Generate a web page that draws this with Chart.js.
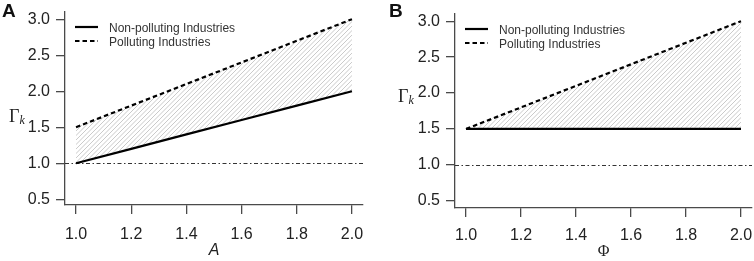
<!DOCTYPE html>
<html><head><meta charset="utf-8">
<script src="https://cdn.jsdelivr.net/npm/chart.js@4"></script>
<style>
html,body{margin:0;padding:0;background:#fff;overflow:hidden;}
#wrap{position:relative;width:754px;height:261px;}
canvas{position:absolute;top:0;}
.lbl{position:absolute;font-family:'Liberation Sans',Arial,sans-serif;font-weight:bold;font-size:19px;line-height:19px;color:#111;}
.gam{position:absolute;font-family:'Liberation Serif','Times New Roman',serif;font-size:18px;line-height:18px;color:#222;white-space:nowrap;}
.gam i{font-size:12px;position:relative;top:2px;}
</style></head><body>
<div id="wrap">
<canvas id="cA" width="377" height="261" style="left:0"></canvas>
<canvas id="cB" width="377" height="261" style="left:377px"></canvas>
<div class="lbl" style="left:2px;top:1px">A</div>
<div class="lbl" style="left:389px;top:1px">B</div>
<div class="gam" style="left:9px;top:107px">Γ<i>k</i></div>
<div class="gam" style="left:398px;top:87px">Γ<i>k</i></div>
</div>
<script>
// ---- data ----
const xValues = [1.0, 1.2, 1.4, 1.6, 1.8, 2.0];
const xTicks = [1.0, 1.2, 1.4, 1.6, 1.8, 2.0];
const yTicks = [0.5, 1.0, 1.5, 2.0, 2.5, 3.0];
const nonPollutingA = [1.0, 1.2, 1.4, 1.6, 1.8, 2.0];
const pollutingA = [1.5, 1.8, 2.1, 2.4, 2.7, 3.0];
const nonPollutingB = [1.5, 1.5, 1.5, 1.5, 1.5, 1.5];
const pollutingB = [1.5, 1.8, 2.1, 2.4, 2.7, 3.0];
const seriesLabels = ['Non-polluting Industries', 'Polluting Industries'];
const referenceLevel = 1.0;
const xTitleA = 'A';
const xTitleB = 'Φ';

Chart.defaults.font.family = "'Liberation Sans', Arial, sans-serif";

const hatchCanvas = document.createElement('canvas');
hatchCanvas.width = 9; hatchCanvas.height = 9;
(function(){
  const g = hatchCanvas.getContext('2d');
  g.strokeStyle = '#bdbdbd'; g.lineWidth = 0.8;
  g.beginPath();
  [-4.5, 0, 4.5, 9, 13.5, 18, 22.5].forEach(c => { g.moveTo(-2, c + 2); g.lineTo(c + 2, -2); });
  g.stroke();
})();
const hatch = hatchCanvas.getContext('2d').createPattern(hatchCanvas, 'repeat');

const decor = {
  id: 'decor',
  beforeDatasetsDraw(chart) {
    const {ctx, chartArea: a, scales: {y}} = chart;
    const py = Math.round(y.getPixelForValue(referenceLevel)) + 0.5;
    ctx.save();
    ctx.strokeStyle = '#333'; ctx.lineWidth = 1;
    ctx.setLineDash([4, 2.5, 1.5, 2.5]);
    ctx.beginPath(); ctx.moveTo(a.left, py); ctx.lineTo(a.right, py); ctx.stroke();
    ctx.restore();
  },
  afterDatasetsDraw(chart) {
    const {ctx, chartArea: a} = chart;
    ctx.save();
    chart.data.datasets.forEach((ds, i) => {
      const yy = a.top + 15 + i * 14;
      ctx.strokeStyle = ds.borderColor; ctx.lineWidth = ds.borderWidth;
      ctx.setLineDash(ds.borderDash || []);
      ctx.beginPath(); ctx.moveTo(a.left + 10, yy); ctx.lineTo(a.left + 33, yy); ctx.stroke();
      ctx.setLineDash([]);
      ctx.fillStyle = '#333';
      ctx.font = "12px 'Liberation Sans', Arial, sans-serif";
      ctx.textBaseline = 'middle'; ctx.textAlign = 'left';
      ctx.fillText(ds.label, a.left + 44, yy + 1.5);
    });
    ctx.restore();
  }
};

function makeChart(id, nonP, pol, g) {
  const axisColor = '#4a4a4a';
  const common = {
    grid: {drawOnChartArea: false, drawTicks: true, tickLength: 9, color: axisColor, lineWidth: 1.3},
    border: {display: true, color: axisColor, width: 1.3}
  };
  return new Chart(document.getElementById(id), {
    type: 'line',
    data: {
      datasets: [
        {label: seriesLabels[0], data: xValues.map((x, i) => ({x, y: nonP[i]})),
         borderColor: '#000', borderWidth: 2.2, pointRadius: 0, fill: false, tension: 0},
        {label: seriesLabels[1], data: xValues.map((x, i) => ({x, y: pol[i]})),
         borderColor: '#000', borderWidth: 2.2, borderDash: [4.5, 3], pointRadius: 0,
         fill: '-1', backgroundColor: hatch, tension: 0}
      ]
    },
    options: {
      responsive: false, animation: false, devicePixelRatio: 1,
      layout: {padding: {left: 0, top: g.top, right: g.padR, bottom: 0}},
      plugins: {legend: {display: false}, tooltip: {enabled: false}},
      scales: {
        x: Object.assign({
          type: 'linear', min: 0.96, max: 2.04,
          afterBuildTicks: s => { s.ticks = xTicks.map(v => ({value: v})); },
          afterFit: s => { s.height = g.xH; s.paddingLeft = 0; s.paddingRight = 0; },
          ticks: {callback: v => Number(v).toFixed(1), font: {size: 16}, color: '#222',
                  padding: g.xTickPad, maxRotation: 0, autoSkip: false},
          title: {display: true, text: g.xTitle, font: g.titleFont, color: '#222',
                  padding: {top: 0, bottom: g.titlePad}}
        }, common),
        y: Object.assign({
          type: 'linear', min: g.yMin, max: g.yMax,
          afterBuildTicks: s => { s.ticks = yTicks.map(v => ({value: v})); },
          afterFit: s => { s.width = g.yW; s.paddingTop = 0; s.paddingBottom = 0; },
          ticks: {callback: v => Number(v).toFixed(1), font: {size: 16}, color: '#222', padding: 6}
        }, common)
      }
    },
    plugins: [decor]
  });
}

makeChart('cA', nonPollutingA, pollutingA, {
  top: 12, padR: 14, xH: 56, yW: 65, yMin: 0.42, yMax: 3.1, xTickPad: 11,
  xTitle: xTitleA, titleFont: {size: 16, style: 'italic'}, titlePad: 1
});
makeChart('cB', nonPollutingB, pollutingB, {
  top: 14, padR: 2, xH: 53, yW: 78, yMin: 0.4, yMax: 3.1, xTickPad: 9,
  xTitle: xTitleB, titleFont: {size: 16, family: "'Liberation Serif', 'Times New Roman', serif"}, titlePad: 0
});
</script>
</body></html>
